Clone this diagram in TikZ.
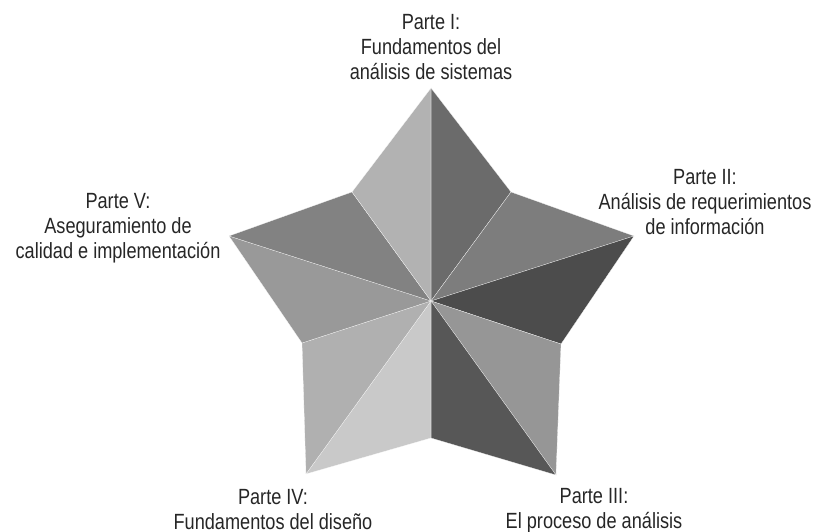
\documentclass[tikz,border=0pt]{standalone}
\usepackage{fontspec}
\setmainfont[FakeStretch=0.825]{Liberation Sans}
\begin{document}
\begin{tikzpicture}[x=1pt,y=-1pt,
  lab/.style={align=center,font=\fontsize{22}{25}\selectfont,text=black!85,inner sep=0pt,anchor=north},
  facet/.style={draw=white,line width=0.2pt}]
\useasboundingbox (0,0) rectangle (816,532);
\coordinate (C) at (431,301);
\coordinate (T1) at (431,88);
\coordinate (I1) at (511,192);
\coordinate (T2) at (634,236);
\coordinate (I2) at (561,344);
\coordinate (T3) at (556,475);
\coordinate (I3) at (431,438);
\coordinate (T4) at (306,474);
\coordinate (I4) at (302,343);
\coordinate (T5) at (229,236);
\coordinate (I5) at (352,192);
\fill[facet,fill=black!58] (C) -- (T1) -- (I1) -- cycle;
\fill[facet,fill=black!51] (C) -- (I1) -- (T2) -- cycle;
\fill[facet,fill=black!70] (C) -- (T2) -- (I2) -- cycle;
\fill[facet,fill=black!41] (C) -- (I2) -- (T3) -- cycle;
\fill[facet,fill=black!66] (C) -- (T3) -- (I3) -- cycle;
\fill[facet,fill=black!21] (C) -- (I3) -- (T4) -- cycle;
\fill[facet,fill=black!31] (C) -- (T4) -- (I4) -- cycle;
\fill[facet,fill=black!40] (C) -- (I4) -- (T5) -- cycle;
\fill[facet,fill=black!49] (C) -- (T5) -- (I5) -- cycle;
\fill[facet,fill=black!30] (C) -- (I5) -- (T1) -- cycle;
\node[lab] (p1) at (431,14) {Parte I:\\Fundamentos del\\análisis de sistemas};
\node[lab] (p2) at (705,169) {Parte II:\\Análisis de requerimientos\\de información};
\node[lab] (p3) at (594,488) {Parte III:\\El proceso de análisis};
\node[lab] (p4) at (273,489) {Parte IV:\\Fundamentos del diseño};
\node[lab] (p5) at (118,193) {Parte V:\\Aseguramiento de\\calidad e implementación};
\end{tikzpicture}
\end{document}
